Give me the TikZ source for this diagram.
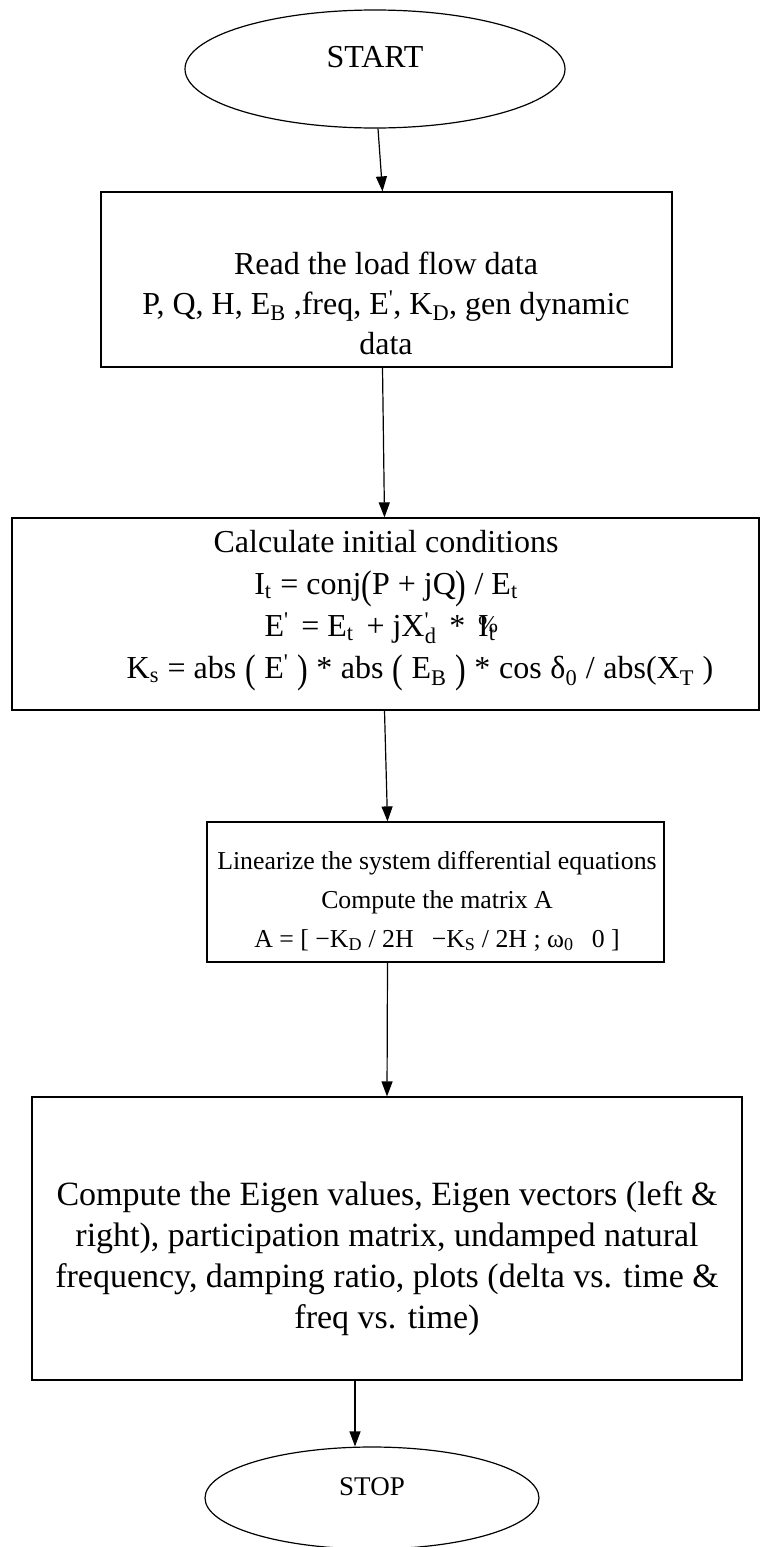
\documentclass[tikz,border=0pt]{standalone}
\usepackage{fontspec}
\setmainfont{Liberation Serif}[Ligatures=TeXOff]
\usepackage{graphicx}
\usetikzlibrary{arrows.meta,shapes.geometric}

\newcommand{\subx}[1]{\textsubscript{#1}}
\newcommand{\supx}[1]{\textsuperscript{#1}}
\newcommand{\bigpar}[1]{\raisebox{-0.12em}{\scalebox{1}[1.25]{#1}}}
\newcommand{\gp}{\hspace{0.27em}}
\newcommand{\wgp}{\hspace{0.4em}}

\begin{document}
\begin{tikzpicture}[
  x=1pt, y=-1pt,
  font=\fontsize{32}{40}\selectfont,
  >={Triangle[length=15pt,width=11pt]},
  term/.style={draw, ellipse, line width=1.2pt, inner sep=0pt},
  proc/.style={draw, line width=1.2pt, inner sep=0pt},
  txt/.style={align=center, inner sep=0pt},
  arr/.style={->, line width=1.2pt},
]
\useasboundingbox (0,0) rectangle (761,1547);

\node[term, minimum width=380pt, minimum height=118pt] (start) at (375,69) {};
\node[txt] (tstart) at (375,57) {START};

\node[proc, minimum width=571pt, minimum height=175pt] (b1) at (386.5,279.5) {};
\node[txt] (t1) at (386,303) {Read the load flow data\\
  P, Q, H, E\subx{B} ,freq, E\supx{'}, K\subx{D}, gen dynamic\\
  data};

\node[proc, minimum width=747pt, minimum height=192pt] (b3) at (385.5,614) {};
\node[txt, font=\fontsize{32}{42}\selectfont] (t3) at (386,611) {Calculate initial conditions\\
  I\subx{t}\gp= conj\bigpar{(}P + jQ\bigpar{)} / E\subx{t}\\
  \hspace{-12pt}E\supx{'}\wgp= E\subx{t}\wgp+ jX\supx{'}\kern-0.25em\subx{\,d}\wgp*\wgp
    \makebox[0pt][l]{\raisebox{0.15em}{\fontsize{24}{24}\selectfont\%}}I\subx{t}\\
  \hspace{68pt}K\subx{s}\gp= abs\gp\bigpar{(}\gp E\supx{'}\gp\bigpar{)}\gp*\gp abs\gp\bigpar{(}\gp E\subx{B}\gp\bigpar{)}\gp*\gp cos\gp δ\subx{0}\gp/\gp abs(X\subx{T}\gp)};

\node[proc, minimum width=457pt, minimum height=140pt] (b4) at (435.5,892) {};
\node[txt, font=\fontsize{25.8}{39}\selectfont] (t4) at (437,901) {Linearize the system differential equations\\
  Compute the matrix A\\
  A = [ −K\subx{D} / 2H\hspace{0.7em}−K\subx{S} / 2H ; ω\subx{0}\hspace{0.7em}0 ]};

\node[proc, minimum width=710pt, minimum height=283pt] (b5) at (387,1238.5) {};
\node[txt, font=\fontsize{34}{41}\selectfont] (t5) at (387,1259) {Compute the Eigen values, Eigen vectors (left \&\\
  right), participation matrix, undamped natural\\
  frequency, damping ratio, plots (delta vs. time \&\\
  freq vs. time)};

\node[term, minimum width=334pt, minimum height=102pt] (stop) at (372,1498) {};
\node[txt, font=\fontsize{27}{32}\selectfont] (tstop) at (372,1487) {STOP};

\draw[arr] ([xshift=3pt]start.south) -- ([xshift=-4pt]b1.north);
\draw[arr] ([xshift=-4pt]b1.south) -- ([xshift=-1pt]b3.north);
\draw[arr] ([xshift=-1pt]b3.south) -- ([xshift=-48pt]b4.north);
\draw[arr] ([xshift=-48pt]b4.south) -- (b5.north);
\draw[arr] ([xshift=-32pt]b5.south) -- ([xshift=-17pt]stop.north);
\end{tikzpicture}
\end{document}
